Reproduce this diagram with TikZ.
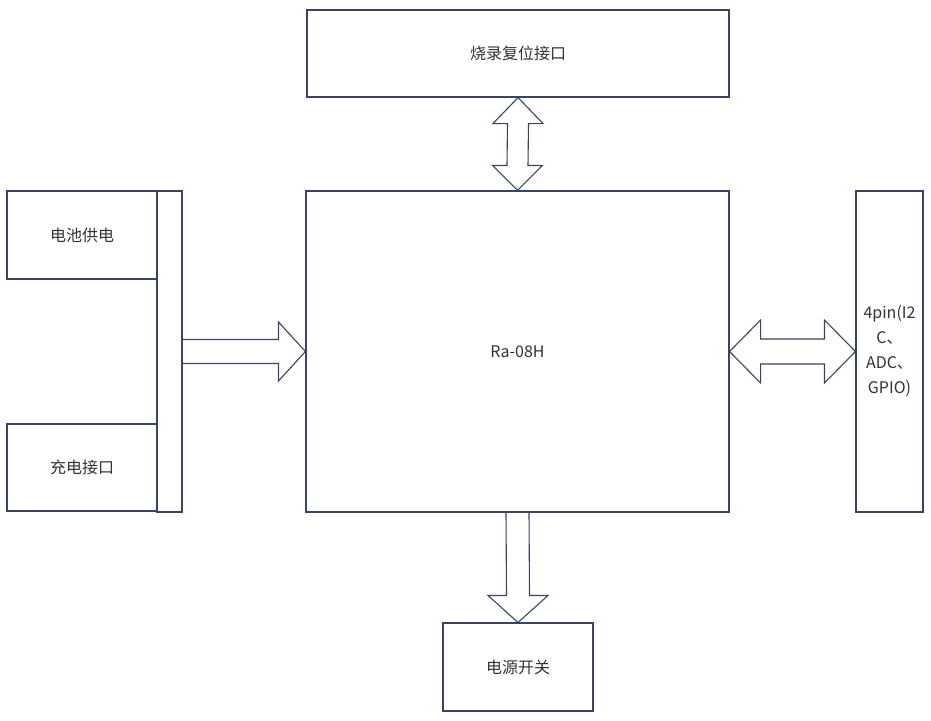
\documentclass[tikz,border=0pt]{standalone}
\usepackage{fontspec}
\setmainfont{Noto Sans CJK SC}
\usetikzlibrary{positioning, calc}
\definecolor{linenavy}{HTML}{3B4266}
\definecolor{textgray}{HTML}{333333}

\begin{document}
\begin{tikzpicture}[
      x=1pt, y=-1pt,
      every node/.style={font=\fontsize{16}{25}\selectfont, text=textgray},
      block/.style={draw=linenavy, line width=1.1pt, fill=white, inner sep=0pt, align=center},
      barrow/.style={draw=linenavy, line width=1.1pt, line join=miter},
    ]
    \useasboundingbox (0,0) rectangle (931,720);

    % Blocks
    \node[block, minimum width=422pt, minimum height=87pt] (burn) at (518,53.5) {烧录复位接口};
    \node[block, minimum width=423pt, minimum height=321pt] (mcu) at (517.5,351.5) {Ra-08H};
    \node[block, minimum width=150pt, minimum height=88pt] (batt) at (82,235) {电池供电};
    \node[block, minimum width=150pt, minimum height=87pt] (chg) at (82,467.5) {充电接口};
    \node[block, minimum width=25pt, minimum height=321pt] (bar) at (169.5,351.5) {};
    \node[block, minimum width=67pt, minimum height=321pt] (pins) at (889.5,351.5)
      {4pin(I2\\C、\\ADC、\\GPIO)};
    \node[block, minimum width=150pt, minimum height=88pt] (sw) at (518,667) {电源开关};

    % Block arrows
    \draw[barrow] (burn.south) -- ($(burn.south)+(25,26)$) -- ($(burn.south)+(10.5,26)$)
      -- ($(mcu.north)+(10.5,-25)$) -- ($(mcu.north)+(25,-25)$) -- (mcu.north)
      -- ($(mcu.north)+(-25,-25)$) -- ($(mcu.north)+(-10.5,-25)$)
      -- ($(burn.south)+(-10.5,26)$) -- ($(burn.south)+(-25,26)$) -- cycle;

    \draw[barrow] ($(bar.east)+(0,-12)$) -- ($(mcu.west)+(-27,-12)$) -- ($(mcu.west)+(-27,-29.5)$)
      -- (mcu.west) -- ($(mcu.west)+(-27,29.5)$) -- ($(mcu.west)+(-27,12)$) -- ($(bar.east)+(0,12)$);

    \draw[barrow] (mcu.east) -- ($(mcu.east)+(31,-31.5)$) -- ($(mcu.east)+(31,-12.5)$)
      -- ($(pins.west)+(-31,-12.5)$) -- ($(pins.west)+(-31,-31.5)$) -- (pins.west)
      -- ($(pins.west)+(-31,31.5)$) -- ($(pins.west)+(-31,12.5)$)
      -- ($(mcu.east)+(31,12.5)$) -- ($(mcu.east)+(31,31.5)$) -- cycle;

    \draw[barrow] ($(mcu.south)+(-11.5,0)$) -- ($(sw.north)+(-11.5,-27)$) -- ($(sw.north)+(-30,-27)$)
      -- (sw.north) -- ($(sw.north)+(30,-27)$) -- ($(sw.north)+(11.5,-27)$) -- ($(mcu.south)+(11.5,0)$);
  \end{tikzpicture}
\end{document}
